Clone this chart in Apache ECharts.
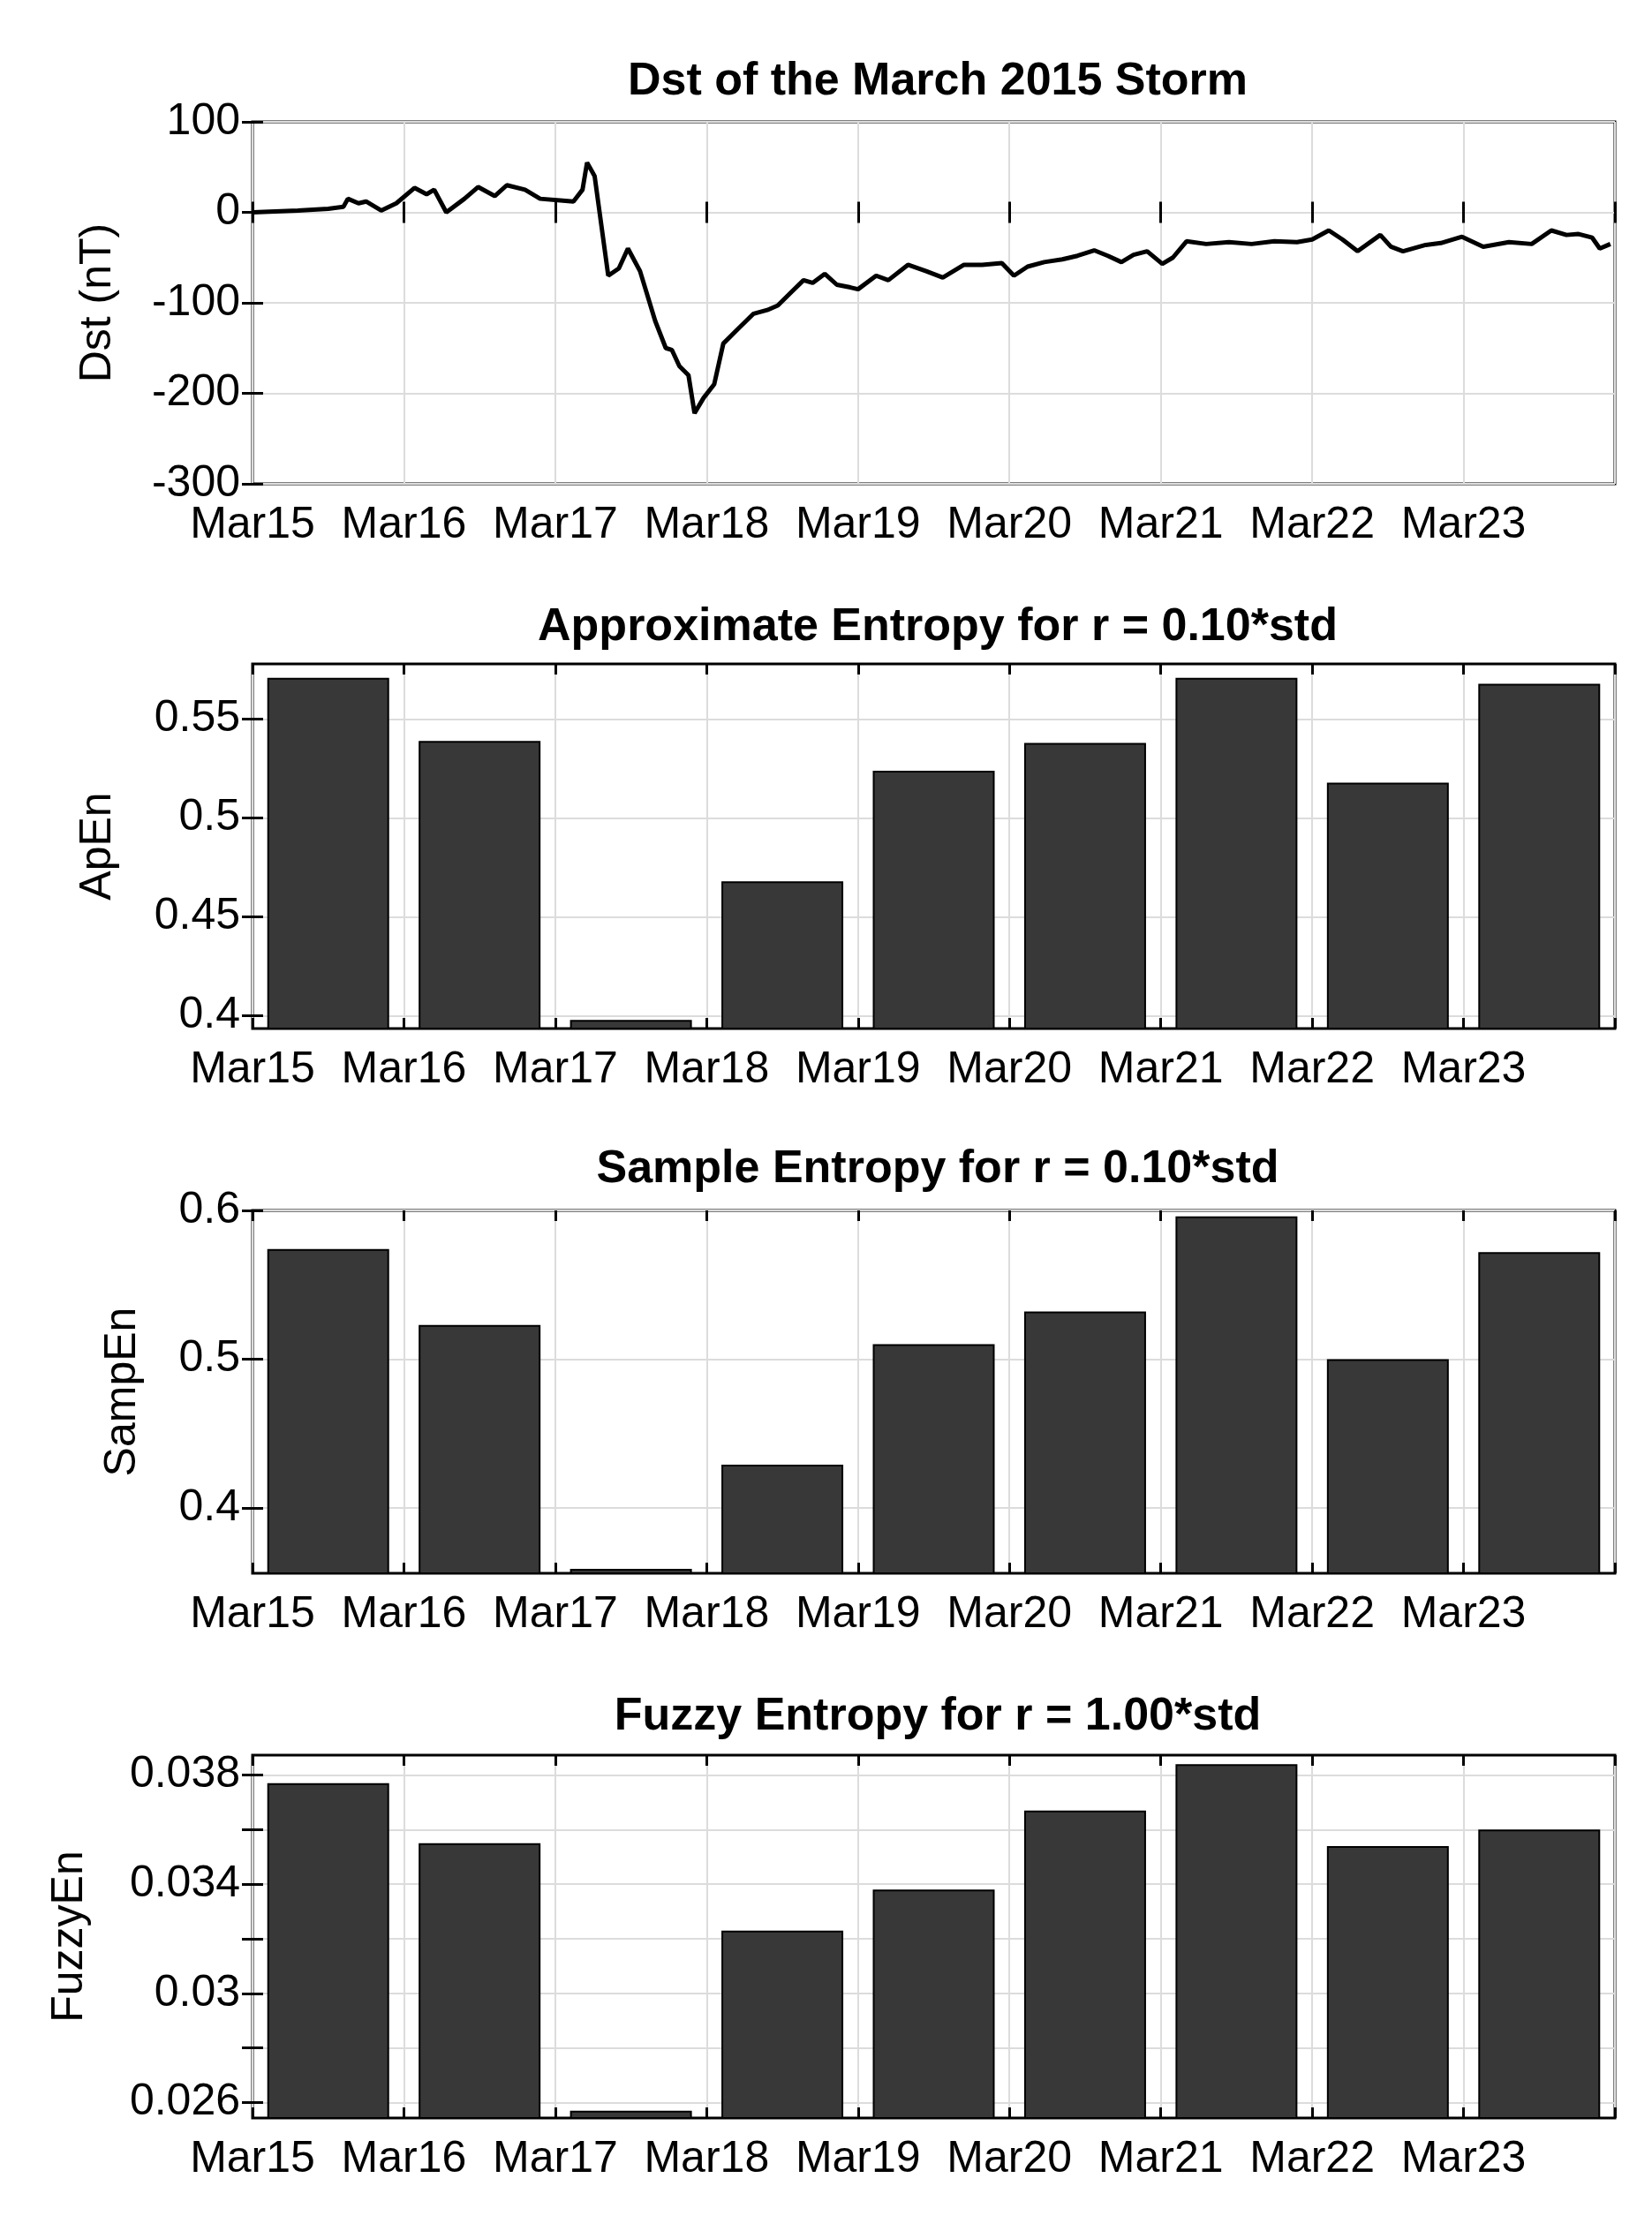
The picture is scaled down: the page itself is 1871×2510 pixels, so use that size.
<!DOCTYPE html>
<html><head><meta charset="utf-8">
<script src="https://cdn.jsdelivr.net/npm/echarts@6/dist/echarts.min.js"></script>
<style>html,body{margin:0;background:#fff}#c{width:1871px;height:2510px}</style>
</head><body><div id="c"></div>
<script>
const dayLabels = ['Mar15','Mar16','Mar17','Mar18','Mar19','Mar20','Mar21','Mar22','Mar23'];
const dstDays = [0,0.3,0.5,0.6,0.63,0.7,0.75,0.85,0.95,1.07,1.15,1.2,1.28,1.4,1.49,1.6,1.68,1.8,1.9,2.05,2.12,2.18,2.21,2.26,2.35,2.42,2.48,2.56,2.66,2.73,2.77,2.82,2.88,2.92,2.98,3.05,3.11,3.2,3.31,3.4,3.47,3.56,3.64,3.7,3.78,3.86,3.95,4.0,4.12,4.2,4.33,4.45,4.56,4.7,4.82,4.95,5.03,5.12,5.23,5.35,5.45,5.56,5.65,5.74,5.82,5.91,6.01,6.08,6.17,6.3,6.45,6.6,6.75,6.9,7.0,7.11,7.2,7.3,7.45,7.52,7.6,7.75,7.85,7.99,8.13,8.3,8.45,8.58,8.68,8.76,8.85,8.9,8.97];
const dstVals = [0,2,4,6,15,10,12,2,10,27,20,25,0,15,28,18,30,25,15,13,12,25,55,40,-70,-62,-40,-65,-120,-150,-152,-170,-180,-222,-205,-190,-145,-130,-112,-108,-103,-88,-75,-78,-68,-80,-83,-85,-70,-75,-58,-65,-72,-58,-58,-56,-70,-60,-55,-52,-48,-42,-48,-55,-47,-43,-57,-50,-32,-35,-33,-35,-32,-33,-30,-20,-30,-43,-25,-38,-43,-36,-34,-27,-38,-33,-35,-20,-25,-24,-28,-40,-35];
const apen = [0.571,0.539,0.398,0.468,0.524,0.538,0.571,0.518,0.568];
const sampen = [0.574,0.523,0.359,0.429,0.510,0.532,0.596,0.500,0.572];
const fuzzyen = [0.0377,0.0355,0.0257,0.0323,0.0338,0.0367,0.0384,0.0354,0.0360];
const apenTicks = [0.4,0.45,0.5,0.55];
const sampenTicks = [0.4,0.5,0.6];
const fuzzyLabelTicks = [0.026,0.03,0.034,0.038];
const fuzzyGridTicks = [0.026,0.028,0.03,0.032,0.034,0.036,0.038];

const FONT = 'Liberation Sans';
const grids = [
  {left:286, right:42, top:138, height:410},
  {left:286, right:42, top:752, height:413},
  {left:286, right:42, top:1371, height:411},
  {left:286, right:42, top:1988, height:411}
].map(g => Object.assign({show:true, borderColor:'#000', borderWidth:3, backgroundColor:'#fff'}, g));
const titles = ['Dst of the March 2015 Storm','Approximate Entropy for r = 0.10*std','Sample Entropy for r = 0.10*std','Fuzzy Entropy for r = 1.00*std'];
const titleY = [62, 680, 1294, 1914];

const xAxes = [], yAxes = [];
for (let i=0;i<4;i++){
  xAxes.push({gridIndex:i, type:'value', min:0, max:9, interval:1, position:'bottom',
    axisLine:{show:false}, axisTick:{show:true, inside:true, length:12, lineStyle:{color:'#000',width:3}},
    splitLine:{show:true, lineStyle:{color:'#dcdcdc', width:2}},
    axisLabel:{fontFamily:FONT, fontSize:50, color:'#000', margin:22, formatter:v=> v<9 ? dayLabels[Math.round(v)] : ''}});
  xAxes.push({gridIndex:i, type:'value', min:0, max:9, interval:1, position:'top',
    axisLine:{show:false}, axisTick:{show:true, inside:true, length:12, lineStyle:{color:'#000',width:3}},
    splitLine:{show:false}, axisLabel:{show:false}});
}
function yAx(i, min, max, labelVals, gridVals, name, gap, fmt){
  const base = {gridIndex:i, type:'value', min:min, max:max, scale:true,
    axisLine:{show:false}};
  yAxes.push(Object.assign({}, base, {position:'left', name:name, nameLocation:'middle', nameGap:gap, nameRotate:90,
    nameTextStyle:{fontFamily:FONT, fontSize:50, color:'#000'},
    axisTick:{show:true, inside:true, length:12, lineStyle:{color:'#000',width:3}, customValues:gridVals},
    splitLine:{show:true, lineStyle:{color:'#dcdcdc', width:2}},
    axisLabel:{fontFamily:FONT, fontSize:50, color:'#000', margin:14, customValues:labelVals, formatter:fmt}}));
  yAxes.push(Object.assign({}, base, {position:'right',
    axisTick:{show:true, inside:true, length:12, lineStyle:{color:'#000',width:3}, customValues:gridVals},
    splitLine:{show:false}, axisLabel:{show:false}}));
}
yAx(0, -300, 100, [-300,-200,-100,0,100], [-300,-200,-100,0,100], 'Dst (nT)', 150, v=>String(v));
yAx(1, 0.3936, 0.578, apenTicks, apenTicks, 'ApEn', 150, v=>String(+v.toFixed(2)));
yAx(2, 0.356, 0.6, sampenTicks, sampenTicks, 'SampEn', 122, v=>String(+v.toFixed(1)));
yAx(3, 0.02543, 0.03873, fuzzyLabelTicks, fuzzyGridTicks, 'FuzzyEn', 182, v=>String(+v.toFixed(3)));

const barSeries = (i, arr) => ({type:'bar', xAxisIndex:2*i, yAxisIndex:2*i, barWidth:138,
  itemStyle:{color:'#383838', borderColor:'#000', borderWidth:2},
  data: arr.map((v,k)=>[k+0.5, v])});

const option = {
  animation:false, backgroundColor:'#fff',
  title: titles.map((t,i)=>({text:t, left:1057, top:titleY[i], textAlign:'center',
    textStyle:{fontFamily:FONT, fontSize:52, fontWeight:'bold', color:'#000'}})),
  grid: grids, xAxis: xAxes, yAxis: yAxes,
  series: [
    {type:'line', xAxisIndex:0, yAxisIndex:0, showSymbol:false, lineStyle:{color:'#000', width:5},
      data: dstDays.map((d,k)=>[d, dstVals[k]])},
    barSeries(1, apen), barSeries(2, sampen), barSeries(3, fuzzyen)
  ]
};
echarts.init(document.getElementById('c')).setOption(option);
</script></body></html>
